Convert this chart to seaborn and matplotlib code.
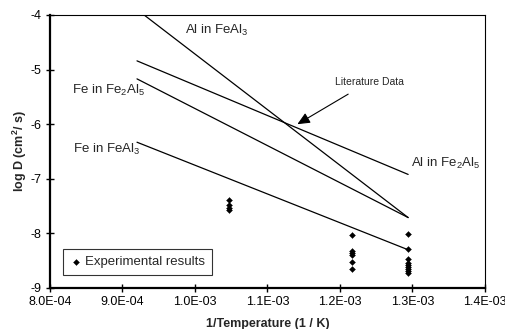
import matplotlib
matplotlib.use("Agg")
import matplotlib.pyplot as plt
import seaborn as sns
import pandas as pd
from matplotlib.ticker import FuncFormatter

# ---- data ----
line_x = [9.2e-4, 1.294e-3]
al_in_feal3 = [-3.90, -7.71]
fe_in_fe2al5 = [-5.17, -7.71]
al_in_fe2al5 = [-4.84, -6.92]
fe_in_feal3 = [-6.33, -8.30]

exp_x = [1.047e-3] * 4 + [1.217e-3] * 6 + [1.294e-3] * 9
exp_y = [-7.39, -7.48, -7.53, -7.57,
         -8.03, -8.32, -8.35, -8.39, -8.52, -8.65,
         -8.02, -8.29, -8.46, -8.54, -8.57, -8.61, -8.65, -8.68, -8.73]

x_ticks = [8.0e-4, 9.0e-4, 1.0e-3, 1.1e-3, 1.2e-3, 1.3e-3, 1.4e-3]
y_ticks = [-9, -8, -7, -6, -5, -4]

sns.set_style("white")
plt.rcParams['font.family'] = ['Liberation Sans', 'DejaVu Sans']
plt.rcParams['mathtext.fontset'] = 'custom'
plt.rcParams['mathtext.rm'] = 'Liberation Sans'
plt.rcParams['mathtext.it'] = 'Liberation Sans:italic'
plt.rcParams['mathtext.bf'] = 'Liberation Sans:bold'

fig = plt.figure(figsize=(5.06, 3.29), dpi=100)
ax = fig.add_axes([50/506, 1-288/329, 435/506, 273/329])

lines = {
    "Al in FeAl3": al_in_feal3,
    "Fe in Fe2Al5": fe_in_fe2al5,
    "Al in Fe2Al5": al_in_fe2al5,
    "Fe in FeAl3": fe_in_feal3,
}
for name, ys in lines.items():
    df = pd.DataFrame({"x": line_x, "y": ys})
    sns.lineplot(data=df, x="x", y="y", ax=ax, color="black", lw=0.9,
                 legend=False, sort=False)

exp_df = pd.DataFrame({"x": exp_x, "y": exp_y})
sns.scatterplot(data=exp_df, x="x", y="y", ax=ax, marker="D", s=9,
                color="black", edgecolor="black", linewidth=0.3,
                label="Experimental results", zorder=5)

ax.set_xlim(8.0e-4, 1.4e-3)
ax.set_ylim(-9, -4)
ax.set_xticks(x_ticks)
ax.set_yticks(y_ticks)
ax.xaxis.set_major_formatter(FuncFormatter(lambda v, p: f"{v:.1E}"))
ax.yaxis.set_major_formatter(FuncFormatter(lambda v, p: f"{int(round(v))}"))
ax.tick_params(axis="both", direction="inout", length=6, width=1.0,
               labelsize=9, colors="black", pad=3)
ax.tick_params(axis="x", bottom=True, top=False)
ax.tick_params(axis="y", left=True, right=False)

for s in ["left", "bottom"]:
    ax.spines[s].set_linewidth(1.6)
    ax.spines[s].set_color("black")
for s in ["top", "right"]:
    ax.spines[s].set_linewidth(0.8)
    ax.spines[s].set_color("black")

ax.set_xlabel("1/Temperature (1 / K)", fontsize=9, fontweight="bold", labelpad=7)
ax.set_ylabel(r"log D (cm$^\mathbf{2}$/ s)", fontsize=9, fontweight="bold", labelpad=1)

fs = 9.5
ax.text(9.867e-4, -4.29, r"Al in FeAl$_3$", fontsize=fs, ha="left", va="center")
ax.text(8.30e-4, -5.39, r"Fe in Fe$_2$Al$_5$", fontsize=fs, ha="left", va="center")
ax.text(8.32e-4, -6.47, r"Fe in FeAl$_3$", fontsize=fs, ha="left", va="center")
ax.text(1.298e-3, -6.71, r"Al in Fe$_2$Al$_5$", fontsize=fs, ha="left", va="center")

ax.annotate("Literature Data", xy=(1.1412e-3, -6.0), xytext=(1.193e-3, -5.22),
            fontsize=7.5, ha="left", va="center",
            arrowprops=dict(arrowstyle="-|>,head_length=1.0,head_width=0.45",
                            color="black", lw=0.8, shrinkA=6, shrinkB=0))

leg = ax.legend(loc="lower left", bbox_to_anchor=(0.030, 0.048), fontsize=9.5,
                frameon=True, fancybox=False, edgecolor="black",
                handletextpad=0.2, handlelength=1.0, borderpad=0.5,
                borderaxespad=0, markerscale=1.0)
leg.get_frame().set_linewidth(0.8)

fig.savefig("out.png", dpi=100)
